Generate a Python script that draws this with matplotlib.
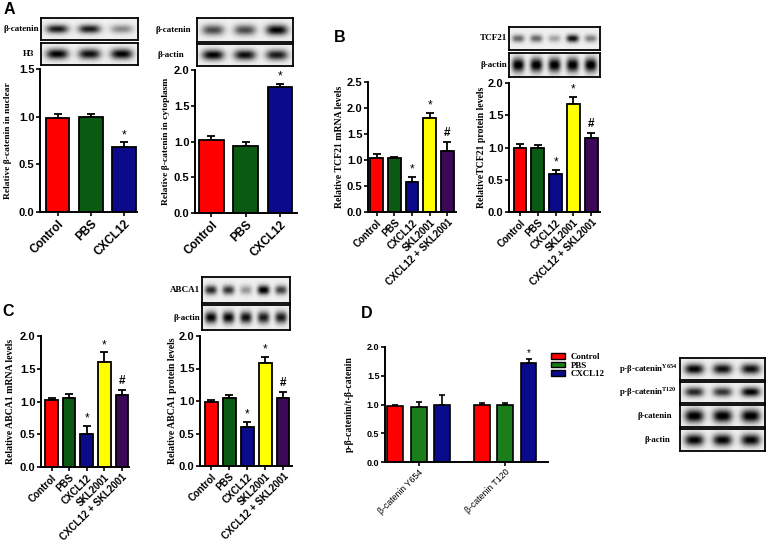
import numpy as np
import matplotlib
matplotlib.use("Agg")
import matplotlib.pyplot as plt
from matplotlib.ticker import FormatStrFormatter
from matplotlib.patches import Patch

# ---- data ----
groups3 = ["Control", "PBS", "CXCL12"]
groups5 = ["Control", "PBS", "CXCL12", "SKL2001", "CXCL12 + SKL2001"]

a_nuc_mean = [0.99, 1.00, 0.68]
a_nuc_err = [0.04, 0.03, 0.05]
a_nuc_sig = ["", "", "*"]

a_cyt_mean = [1.02, 0.94, 1.76]
a_cyt_err = [0.06, 0.06, 0.05]
a_cyt_sig = ["", "", "*"]

b_mrna_mean = [1.03, 1.03, 0.57, 1.80, 1.18]
b_mrna_err = [0.09, 0.03, 0.11, 0.11, 0.17]
b_prot_mean = [0.99, 1.00, 0.59, 1.68, 1.14]
b_prot_err = [0.06, 0.04, 0.06, 0.10, 0.09]

c_mrna_mean = [1.02, 1.06, 0.50, 1.61, 1.10]
c_mrna_err = [0.04, 0.05, 0.13, 0.14, 0.08]
c_prot_mean = [0.99, 1.04, 0.60, 1.58, 1.04]
c_prot_err = [0.02, 0.06, 0.08, 0.10, 0.10]
sig5 = ["", "", "*", "*", "#"]

d_sites = ["β-catenin Y654", "β-catenin T120"]
d_control = [0.98, 1.00]
d_pbs = [0.96, 0.99]
d_cxcl12 = [1.00, 1.73]
d_control_err = [0.02, 0.03]
d_pbs_err = [0.08, 0.04]
d_cxcl12_err = [0.16, 0.07]
d_sig = [["", ""], ["", ""], ["", "*"]]

# band darkness per lane (0 = empty, 1 = black)
blot_a_bcat_nuc = [0.85, 0.85, 0.40]
blot_a_h3 = [0.95, 0.90, 0.95]
blot_a_bcat_cyt = [0.65, 0.65, 0.95]
blot_a_actin = [0.95, 0.90, 0.85]
blot_b_tcf21 = [0.55, 0.55, 0.30, 0.90, 0.45]
blot_b_actin = [1.00, 1.00, 1.00, 1.00, 1.00]
blot_c_abca1 = [0.80, 0.75, 0.35, 1.00, 0.70]
blot_c_actin = [0.95, 0.95, 0.90, 0.85, 0.85]
blot_d_y654 = [0.95, 0.90, 0.90]
blot_d_t120 = [0.80, 0.75, 0.95]
blot_d_bcat = [1.00, 1.00, 1.00]
blot_d_actin = [0.95, 0.95, 0.95]

colors5 = ["#ff0000", "#0b5a14", "#0a0a8a", "#ffff00", "#3a0a58"]
colors_d = ["#ff0000", "#1a7f1a", "#0a0a8c"]

W, H = 766, 542
fig = plt.figure(figsize=(W / 100, H / 100), dpi=100)

SANS = "Liberation Sans"
SERIF = "Liberation Serif"


def px_axes(l, t, r, b):
    return fig.add_axes([l / W, 1 - b / H, (r - l) / W, (b - t) / H])


def style_axes(ax, tick_fs):
    for s in ["top", "right"]:
        ax.spines[s].set_visible(False)
    for s in ["left", "bottom"]:
        ax.spines[s].set_linewidth(1.4)
    ax.tick_params(axis="both", width=1.2, length=3, pad=1)
    ax.tick_params(axis="y", labelsize=tick_fs)
    ax.yaxis.set_major_formatter(FormatStrFormatter("%.1f"))
    for lab in ax.get_yticklabels():
        lab.set_fontfamily(SANS)
        lab.set_fontweight("bold")


def bar_panel(box, cats, mean, err, sig, ymax, ylabel, ylab_x, xlim,
              tick_fs=8, xt_fs=7, ylab_fs=7):
    l, t, r, b = box
    ax = px_axes(l, t, r, b)
    x = np.arange(len(cats))
    ax.errorbar(x, mean, yerr=[np.zeros(len(mean)), err], fmt="none",
                ecolor="black", elinewidth=1.3, capsize=3, capthick=1.3, zorder=1)
    ax.bar(x, mean, width=0.72, color=colors5[:len(cats)], edgecolor="black",
           linewidth=1.3, zorder=2)
    for xi, m, e, s in zip(x, mean, err, sig):
        if s:
            ax.annotate(s, (xi, m + e), xytext=(0, 1 if s == "*" else 2),
                        textcoords="offset points", ha="center", va="bottom",
                        fontsize=8.5 if s == "*" else 8.5, family=SANS,
                        fontweight="normal" if s == "*" else "bold")
    ax.set_ylim(0, ymax)
    ax.set_yticks(np.arange(0, ymax + 0.01, 0.5))
    ax.set_xlim(*xlim)
    ax.set_xticks(x)
    ax.set_xticklabels(cats, rotation=45, ha="right", rotation_mode="anchor",
                       fontsize=xt_fs, fontweight="bold", family=SANS)
    style_axes(ax, tick_fs)
    ax.set_ylabel(ylabel, family=SERIF, fontweight="bold", fontsize=ylab_fs)
    ax.yaxis.set_label_coords((ylab_x - l) / (r - l), 0.5)
    return ax


def blot(box, inten, thick, label, lab_x, ha="right", lab_fs=6.5):
    l, t, r, b = box
    ax = px_axes(l, t, r, b)
    yy, xx = np.mgrid[0:1:40j, 0:1:240j]
    img = np.full(xx.shape, 0.06)
    n = len(inten)
    for i, v in enumerate(inten):
        xc = (i + 0.5) / n
        wx = 0.34 / n
        img += v * np.exp(-np.abs((xx - xc) / wx) ** 3) * np.exp(-((yy - 0.5) / thick) ** 2)
    ax.imshow(np.clip(img, 0, 1), cmap="gray_r", vmin=0, vmax=1,
              extent=[0, 1, 0, 1], aspect="auto", interpolation="bilinear")
    ax.set_xticks([])
    ax.set_yticks([])
    for s in ax.spines.values():
        s.set_linewidth(1.3)
    fig.text(lab_x / W, 1 - (t + b) / 2 / H, label, ha=ha, va="center",
             family=SERIF, fontweight="bold", fontsize=lab_fs)
    return ax


def letter(x, y, s):
    fig.text(x / W, 1 - y / H, s, ha="left", va="center", family=SANS,
             fontweight="bold", fontsize=11.5)


# ---- panel A ----
letter(4, 10, "A")
blot((41, 18, 138, 40), blot_a_bcat_nuc, 0.2, "β-catenin", 39)
blot((41, 43, 138, 65), blot_a_h3, 0.24, "H3", 34)
bar_panel((40, 69, 137, 212), groups3, a_nuc_mean, a_nuc_err, a_nuc_sig, 1.5,
          "Relative β-catenin in nuclear", 12, (-0.53, 2.4), xt_fs=8.5, ylab_fs=6.8)

blot((197, 18, 293, 42), blot_a_bcat_cyt, 0.22, "β-catenin", 156, ha="left")
blot((197, 44, 293, 66), blot_a_actin, 0.24, "β-actin", 157, ha="left")
bar_panel((195, 70, 297, 213), groups3, a_cyt_mean, a_cyt_err, a_cyt_sig, 2.0,
          "Relative β-catenin in cytoplasm", 170, (-0.48, 2.5), xt_fs=8.5, ylab_fs=6.8)

# ---- panel B ----
letter(334, 38, "B")
bar_panel((368, 82, 456, 212), groups5, b_mrna_mean, b_mrna_err, sig5, 2.5,
          "Relative TCF21 mRNA levels", 344, (-0.5, 4.5))
blot((509, 27, 600, 50), blot_b_tcf21, 0.17, "TCF21", 507)
blot((509, 53, 600, 77), blot_b_actin, 0.3, "β-actin", 507)
bar_panel((509, 83, 600, 212), groups5, b_prot_mean, b_prot_err, sig5, 2.0,
          "RelativeTCF21 protein levels", 486, (-0.62, 4.5))

# ---- panel C ----
letter(2, 311, "C")
bar_panel((41, 336, 129, 467), groups5, c_mrna_mean, c_mrna_err, sig5, 2.0,
          "Relative ABCA1 mRNA levels", 15, (-0.6, 4.4))
blot((202, 277, 290, 303), blot_c_abca1, 0.18, "ABCA1", 200)
blot((202, 305, 290, 330), blot_c_actin, 0.24, "β-actin", 200)
bar_panel((200, 336, 292, 466), groups5, c_prot_mean, c_prot_err, sig5, 2.0,
          "Relative ABCA1 protein levels", 177, (-0.64, 4.5))

# ---- panel D ----
letter(361, 313, "D")
l, t, r, b = 385, 347, 548, 462
axd = px_axes(l, t, r, b)
group_step = 3.68
series = [("Control", d_control, d_control_err),
          ("PBS", d_pbs, d_pbs_err),
          ("CXCL12", d_cxcl12, d_cxcl12_err)]
handles = []
for j, (name, vals, errs) in enumerate(series):
    xs = np.arange(len(d_sites)) * group_step + j
    axd.errorbar(xs, vals, yerr=[np.zeros(len(vals)), errs], fmt="none",
                 ecolor="black", elinewidth=1.2, capsize=2.5, capthick=1.2, zorder=1)
    axd.bar(xs, vals, width=0.68, color=colors_d[j], edgecolor="black",
            linewidth=1.2, zorder=2)
    for xi, v, e, s in zip(xs, vals, errs, d_sig[j]):
        if s:
            axd.annotate(s, (xi, v + e), xytext=(0, 0.5), textcoords="offset points",
                         ha="center", va="bottom", fontsize=7, family=SANS)
    handles.append(Patch(facecolor=colors_d[j], edgecolor="black", linewidth=1.0, label=name))
axd.set_ylim(0, 2.0)
axd.set_yticks(np.arange(0, 2.01, 0.5))
axd.set_xlim(-0.43, 6.51)
axd.set_xticks(np.arange(len(d_sites)) * group_step + 1)
axd.set_xticklabels(d_sites, rotation=45, ha="right", rotation_mode="anchor",
                    fontsize=6.3, family=SANS)
style_axes(axd, 6.5)
axd.set_ylabel("p-β-catenin/t-β-catenin", family=SERIF, fontweight="bold", fontsize=7)
axd.yaxis.set_label_coords((354 - l) / (r - l), 0.5)
fig.legend(handles=handles, loc="upper left", bbox_to_anchor=(545 / W, 1 - 347 / H),
           frameon=False, prop={"family": SERIF, "weight": "bold", "size": 6.4},
           handlelength=1.6, handleheight=0.6, labelspacing=0.05, handletextpad=0.6,
           borderpad=0.2)

blot((680, 358, 765, 380), blot_d_y654, 0.24, "p-β-catenin$^{\\mathregular{Y654}}$", 677, lab_fs=6.3)
blot((680, 382, 765, 403), blot_d_t120, 0.22, "p-β-catenin$^{\\mathregular{T120}}$", 677, lab_fs=6.3)
blot((680, 405, 765, 427), blot_d_bcat, 0.3, "β-catenin", 672, lab_fs=6.3)
blot((680, 429, 765, 451), blot_d_actin, 0.27, "β-actin", 670, lab_fs=6.3)

fig.savefig("out.png", dpi=100)
